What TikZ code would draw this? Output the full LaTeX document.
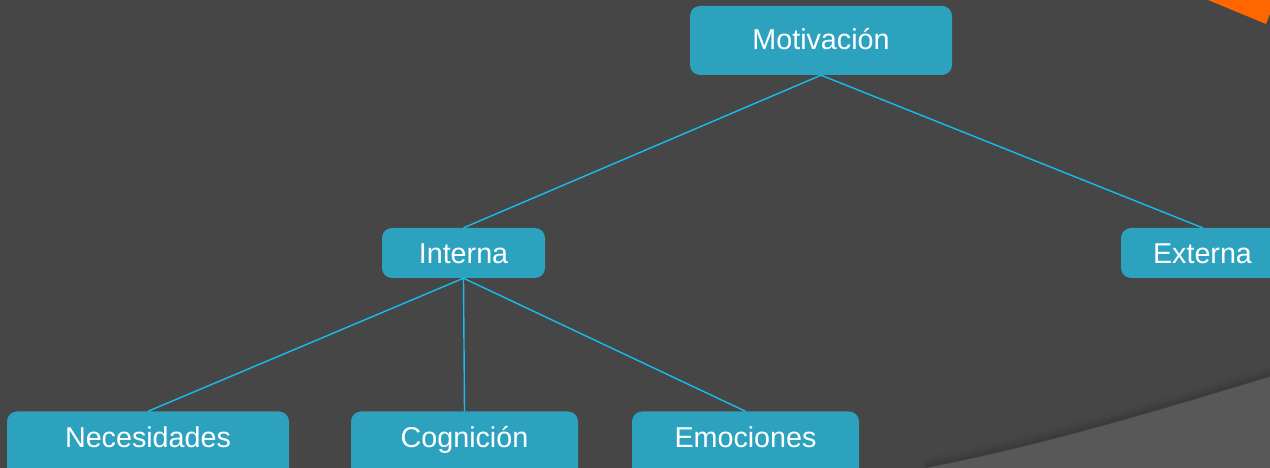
\documentclass[tikz,border=0pt]{standalone}
\usepackage{fontspec}
\setmainfont{Liberation Sans}
\definecolor{bgdark}{HTML}{464646}
\definecolor{bglight}{HTML}{585858}
\definecolor{boxblue}{HTML}{2CA2BF}
\definecolor{linkcyan}{HTML}{14BEF0}
\definecolor{orangec}{HTML}{FF6600}
\begin{document}
\begin{tikzpicture}[x=1pt,y=1pt,
  boxnode/.style={rectangle, rounded corners=10pt, fill=boxblue, text=white,
    inner xsep=0pt, inner ysep=0pt, anchor=base,
    font=\fontsize{28.7}{34}\selectfont},
  conn/.style={draw=linkcyan, line width=1.4pt}]
\useasboundingbox (0,0) rectangle (1270,468);
\clip (0,0) rectangle (1270,468);
\fill[bgdark] (0,0) rectangle (1270,468);
% lighter lower-right region
\fill[bglight] (925,0) .. controls (1040,22) and (1160,58) .. (1275,93) -- (1275,0) -- cycle;
\foreach \w/\o in {10/0.04,6/0.05,3/0.06}{
  \draw[line width=\w pt, black, opacity=\o] (925,\w*0.5) .. controls (1040,22+\w*0.5) and (1160,58+\w*0.5) .. (1275,93+\w*0.5);
}
% orange corner
\fill[orangec] (1208,468) -- (1266,444) -- (1276,470) -- cycle;
% nodes
\node[boxnode, minimum width=262pt, text height=43.3pt, text depth=25.7pt] (mot) at (821,418.7) {Motivación};
\node[boxnode, minimum width=163pt, text height=35.3pt, text depth=14.7pt] (int) at (463.5,204.7) {Interna};
\node[boxnode, minimum width=163pt, text height=35.3pt, text depth=14.7pt] (ext) at (1202.5,204.7) {Externa};
\node[boxnode, minimum width=282pt, text height=36.5pt, text depth=30pt] (nec) at (148,20) {Necesidades};
\node[boxnode, minimum width=227pt, text height=36.5pt, text depth=30pt] (cog) at (464.5,20) {Cognición};
\node[boxnode, minimum width=227pt, text height=36.5pt, text depth=30pt] (emo) at (745.5,20) {Emociones};
% connectors
\draw[conn] (mot.south) -- (int.north);
\draw[conn] (mot.south) -- (ext.north);
\draw[conn] (int.south) -- (nec.north);
\draw[conn] (int.south) -- (cog.north);
\draw[conn] (int.south) -- (emo.north);
\end{tikzpicture}
\end{document}
